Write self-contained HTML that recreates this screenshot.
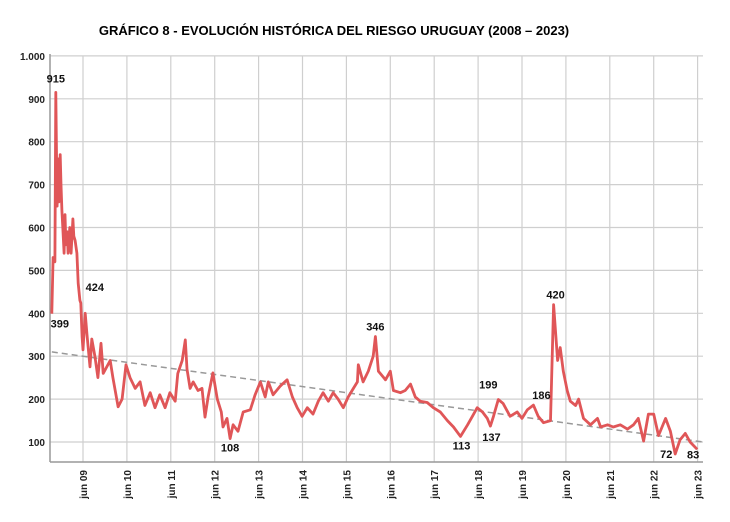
<!DOCTYPE html>
<html><head><meta charset="utf-8"><style>
body{margin:0;background:#fff;width:730px;height:517px;overflow:hidden;font-family:"Liberation Sans",Arial,sans-serif}
</style></head><body>
<svg width="730" height="517" viewBox="0 0 730 517" xmlns="http://www.w3.org/2000/svg">
<text x="334" y="35" text-anchor="middle" font-size="13" font-weight="bold" fill="#000">GRÁFICO 8 - EVOLUCIÓN HISTÓRICA DEL RIESGO URUGUAY (2008 – 2023)</text>
<g id="grid"></g>
<g id="axes"></g>
<g id="series"></g>
<g id="labels"></g>
</svg>
<script>
const yTicks=[100,200,300,400,500,600,700,800,900,1000];
const yTickLabels=["100","200","300","400","500","600","700","800","900","1.000"];
const xTicks=[2009.42,2010.42,2011.42,2012.42,2013.42,2014.42,2015.42,2016.42,2017.42,2018.42,2019.42,2020.42,2021.42,2022.42,2023.42];
const xTickLabels=["jun 09","jun 10","jun 11","jun 12","jun 13","jun 14","jun 15","jun 16","jun 17","jun 18","jun 19","jun 20","jun 21","jun 22","jun 23"];
const dates=[2008.71,2008.74,2008.78,2008.80,2008.83,2008.85,2008.87,2008.90,2008.92,2008.94,2008.96,2008.99,2009.01,2009.03,2009.06,2009.08,2009.12,2009.15,2009.19,2009.21,2009.24,2009.28,2009.31,2009.35,2009.37,
2009.40,2009.42,2009.47,2009.51,2009.58,2009.62,2009.69,2009.76,2009.83,2009.88,2010.04,2010.10,2010.22,2010.31,2010.40,2010.49,2010.61,2010.72,2010.83,2010.95,2011.06,2011.17,2011.29,2011.40,2011.52,2011.58,2011.68,2011.75,2011.79,2011.86,2011.93,2012.04,2012.13,2012.20,2012.27,2012.38,2012.48,2012.57,2012.61,2012.70,2012.77,2012.84,2012.95,2013.07,2013.23,2013.34,2013.46,2013.57,2013.64,2013.75,2013.91,2014.07,2014.19,2014.30,2014.41,2014.53,2014.66,2014.78,2014.89,2015.01,2015.12,2015.23,2015.35,2015.46,2015.58,2015.67,2015.69,2015.80,2015.92,2016.03,2016.08,2016.15,2016.19,2016.31,2016.42,2016.49,2016.65,2016.76,2016.88,2016.99,2017.10,2017.26,2017.40,2017.56,2017.72,2017.86,2018.02,2018.18,2018.29,2018.40,2018.52,2018.63,2018.70,2018.77,2018.88,2018.99,2019.15,2019.31,2019.42,2019.54,2019.68,2019.79,2019.91,2020.07,2020.14,2020.23,2020.29,2020.36,2020.45,2020.52,2020.64,2020.71,2020.82,2020.98,2021.14,2021.21,2021.37,2021.50,2021.66,2021.82,2021.96,2022.07,2022.19,2022.30,2022.42,2022.53,2022.69,2022.80,2022.91,2023.02,2023.14,2023.25,2023.41];
const values=[399,530,520,915,650,760,660,770,700,640,600,540,630,560,590,540,600,540,620,580,570,540,470,430,424,
345,315,400,350,275,340,300,250,330,260,290,250,182,200,280,250,225,240,185,215,180,210,180,215,195,260,290,338,270,225,240,220,225,158,205,261,200,170,135,155,108,140,125,170,175,210,240,205,240,210,230,245,205,180,160,180,165,195,215,195,215,200,180,205,225,240,280,240,265,300,346,265,260,245,265,220,215,220,235,205,195,192,180,170,150,135,113,140,160,180,170,155,137,160,199,190,160,170,155,175,186,160,145,150,420,290,320,265,220,195,185,200,155,140,155,135,140,135,140,130,140,155,102,165,165,115,155,125,72,105,120,100,83];
const annDates=[2008.71,2008.80,2009.37,2012.77,2016.08,2018.02,2018.70,2018.88,2019.68,2020.14,2022.91,2023.41];
const annValues=[399,915,424,108,346,113,137,199,186,420,72,83];
const annText=["399","915","424","108","346","113","137","199","186","420","72","83"];
const annDx=[8,0,14,0,0,1,1,-10,8,2,-9,-4];
const annDy=[14,-10,-12,13,-6,13,15,-11,-6,-6,4,9];
const trendStart=[2008.71,310], trendEnd=[2023.55,100];

const X0=50,X1=703,Y0=56,Y1=462;
const xs=d=>83+(d-2009.42)*43.9;
const ys=v=>442-(v-100)*0.429;
const NS="http://www.w3.org/2000/svg";
function mk(tag,attrs,parent){const e=document.createElementNS(NS,tag);for(const k in attrs)e.setAttribute(k,attrs[k]);parent.appendChild(e);return e;}
const grid=document.getElementById('grid'),axes=document.getElementById('axes'),series=document.getElementById('series'),labels=document.getElementById('labels');
yTicks.forEach((t,i)=>{
  const l=mk('line',{x1:X0,x2:X1,y1:ys(t),y2:ys(t),stroke:'#cfcfcf','stroke-width':1.2},grid);
  
  
  const tx=mk('text',{x:45,y:ys(t)+4,'text-anchor':'end','font-size':10,'font-weight':'bold',fill:'#222'},axes);
  tx.textContent=yTickLabels[i];
  
  
});
xTicks.forEach((t,i)=>{
  const x=xs(t);
  const l=mk('line',{x1:x,x2:x,y1:Y0,y2:Y1,stroke:'#cfcfcf','stroke-width':1.2},grid);
  
  
  const tx=mk('text',{x:0,y:0,'text-anchor':'end','font-size':10,'font-weight':'bold',fill:'#222',transform:`translate(${x+4},470) rotate(-90)`},axes);
  tx.textContent=xTickLabels[i];
  
  
});
const ya=mk('line',{x1:X0,x2:X0,y1:Y0-2,y2:Y1,stroke:'#999','stroke-width':1.5},axes);


const xa=mk('line',{x1:X0,x2:X1,y1:Y1,y2:Y1,stroke:'#999','stroke-width':1.5},axes);


const tr=mk('line',{x1:xs(trendStart[0]),y1:ys(trendStart[1]),x2:xs(trendEnd[0]),y2:ys(trendEnd[1]),stroke:'#999','stroke-width':1.5,'stroke-dasharray':'6,4'},series);


const pts=dates.map((d,i)=>xs(d).toFixed(1)+','+ys(values[i]).toFixed(1)).join(' ');
const pl=mk('polyline',{points:pts,fill:'none',stroke:'#e05658','stroke-width':2.8,'stroke-linejoin':'round'},series);


annDates.forEach((d,i)=>{
  const x=xs(d)+annDx[i],y=ys(annValues[i])+annDy[i];
  const tx=mk('text',{x:x,y:y,'text-anchor':'middle','font-size':11,'font-weight':'bold',fill:'#111'},labels);
  tx.textContent=annText[i];
  
  
});
</script>
</body></html>
